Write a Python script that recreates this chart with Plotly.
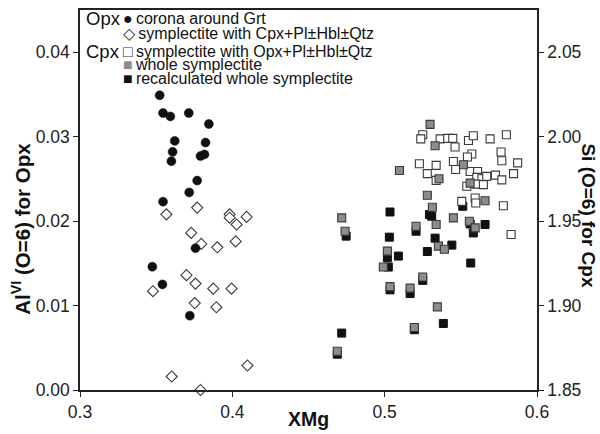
import plotly.graph_objects as go

# ---- Opx (left axis, Al VI) ----
corona_x = [0.3523, 0.3545, 0.3593, 0.3714, 0.3846, 0.3622, 0.3824, 0.3608, 0.3791, 0.3817,
            0.3600, 0.3769, 0.3717, 0.3545, 0.3758, 0.3475, 0.3541, 0.3721]
corona_y = [0.0349, 0.0328, 0.0324, 0.0328, 0.0315, 0.0295, 0.0293, 0.0282, 0.0277, 0.0279,
            0.0271, 0.0248, 0.0234, 0.0223, 0.0168, 0.0146, 0.0125, 0.0088]

sympl_opx_x = [0.3567, 0.3769, 0.3982, 0.3982, 0.4094, 0.4028, 0.3730, 0.3796, 0.3901, 0.4022,
               0.3699, 0.3479, 0.3758, 0.3875, 0.3995, 0.3753, 0.3895, 0.4099, 0.3602, 0.3791]
sympl_opx_y = [0.0208, 0.0216, 0.0208, 0.0204, 0.0205, 0.0196, 0.0186, 0.0173, 0.0169, 0.0176,
               0.0136, 0.0117, 0.0126, 0.0120, 0.0120, 0.0103, 0.0098, 0.0029, 0.0016, 0.0000]

# ---- Cpx (right axis, Si) ----
sympl_cpx_x = [0.5250, 0.5237, 0.5364, 0.5414, 0.5447, 0.5462, 0.5550, 0.5582, 0.5692, 0.5799,
               0.5764, 0.5769, 0.5873, 0.5572, 0.5543, 0.5228, 0.5338, 0.5451, 0.5466, 0.5280,
               0.5338, 0.5561, 0.5610, 0.5605, 0.5638, 0.5670, 0.5727, 0.5769, 0.5846, 0.5539,
               0.5600, 0.5648, 0.5506, 0.5594, 0.5598, 0.5779, 0.5830]
sympl_cpx_y = [2.0011, 1.9987, 1.9987, 1.9990, 1.9990, 1.9939, 1.9977, 2.0005, 1.9987, 2.0011,
               1.9909, 1.9857, 1.9845, 1.9897, 1.9880, 1.9840, 1.9830, 1.9853, 1.9806, 1.9781,
               1.9741, 1.9794, 1.9794, 1.9759, 1.9751, 1.9765, 1.9772, 1.9744, 1.9781, 1.9706,
               1.9719, 1.9716, 1.9617, 1.9637, 1.9607, 1.9591, 1.9421]

whole_x = [0.5298, 0.5331, 0.5097, 0.5357, 0.5517, 0.5561, 0.5280, 0.5659, 0.5313, 0.5451,
           0.4718, 0.4740, 0.5206, 0.5338, 0.5556, 0.5594, 0.5353, 0.5392, 0.5018, 0.4991,
           0.5250, 0.5167, 0.5035, 0.5346, 0.5195, 0.4689]
whole_y = [2.0073, 1.9946, 1.9800, 1.9751, 1.9834, 1.9725, 1.9653, 1.9621, 1.9582, 1.9519,
           1.9519, 1.9440, 1.9470, 1.9480, 1.9499, 1.9460, 1.9352, 1.9333, 1.9322, 1.9228,
           1.9169, 1.9103, 1.9112, 1.8992, 1.8870, 1.8729]

recalc_x = [0.5513, 0.5035, 0.5294, 0.5309, 0.5561, 0.5659, 0.5206, 0.5582, 0.4747, 0.5031,
            0.5331, 0.5441, 0.5280, 0.5018, 0.5090, 0.5024, 0.5565, 0.5250, 0.5167, 0.5035,
            0.5385, 0.5195, 0.4718, 0.4689]
recalc_y = [1.9588, 1.9554, 1.9539, 1.9529, 1.9483, 1.9480, 1.9440, 1.9430, 1.9411, 1.9405,
            1.9399, 1.9358, 1.9320, 1.9283, 1.9293, 1.9228, 1.9252, 1.9149, 1.9071, 1.9093,
            1.8894, 1.8857, 1.8837, 1.8712]

x_ticks = [0.3, 0.4, 0.5, 0.6]
opx_ticks = [0.00, 0.01, 0.02, 0.03, 0.04]
cpx_ticks = [1.85, 1.90, 1.95, 2.00, 2.05]

FONT = 'Liberation Sans, Arial, sans-serif'
EDGE = '#3a3a3a'

fig = go.Figure()

# Cpx: recalculated (black) underneath, then open, then grey on top
fig.add_trace(go.Scatter(x=recalc_x, y=recalc_y, yaxis='y2', mode='markers', showlegend=False,
                         marker=dict(symbol='square', size=8, color='#111', line=dict(color='#111', width=1))))
fig.add_trace(go.Scatter(x=sympl_cpx_x, y=sympl_cpx_y, yaxis='y2', mode='markers', showlegend=False,
                         marker=dict(symbol='square', size=8, color='white', line=dict(color=EDGE, width=1.1))))
fig.add_trace(go.Scatter(x=whole_x, y=whole_y, yaxis='y2', mode='markers', showlegend=False,
                         marker=dict(symbol='square', size=8, color='#8c8c8c', line=dict(color=EDGE, width=1.1))))

# Opx
fig.add_trace(go.Scatter(x=sympl_opx_x, y=sympl_opx_y, mode='markers', showlegend=False, cliponaxis=False,
                         marker=dict(symbol='diamond', size=8.5, color='white', line=dict(color=EDGE, width=1.1))))
fig.add_trace(go.Scatter(x=corona_x, y=corona_y, mode='markers', showlegend=False,
                         marker=dict(symbol='circle', size=9, color='#111', line=dict(color='#111', width=0.5))))

axis_line = dict(showline=True, linecolor='#222', linewidth=1.6, showgrid=False, zeroline=False,
                 ticks='outside', ticklen=5, tickcolor='#222', tickwidth=1.3,
                 tickfont=dict(family=FONT, size=17.5, color='#222'))

fig.update_layout(
    width=600, height=434,
    margin=dict(l=80, r=63, t=8, b=44),
    plot_bgcolor='white', paper_bgcolor='white',
    xaxis=dict(range=[0.3, 0.6], tickvals=x_ticks, tickformat='.1f', mirror=True, **axis_line),
    yaxis=dict(range=[0, 0.045], tickvals=opx_ticks, tickformat='.2f', **axis_line),
    yaxis2=dict(range=[1.85, 2.075], tickvals=cpx_ticks, tickformat='.2f', overlaying='y', side='right',
                **axis_line),
)

notes = [
    dict(text='<b>XMg</b>', x=0.5, y=-0.075, xanchor='center', yanchor='middle',
         font=dict(family=FONT, size=19.5, color='#111')),
    dict(text='<b>Al<sup>VI</sup> (O=6) for Opx</b>', x=-0.128, y=0.423, textangle=-90,
         xanchor='center', yanchor='middle', font=dict(family=FONT, size=20.5, color='#111')),
    dict(text='<b>Si (O=6) for Cpx</b>', x=1.112, y=0.459, textangle=90,
         xanchor='center', yanchor='middle', font=dict(family=FONT, size=19, color='#111')),
    dict(text='Opx', x=0.008, y=0.977, xanchor='left', yanchor='middle',
         font=dict(family=FONT, size=18.5, color='#111')),
    dict(text='Cpx', x=0.008, y=0.891, xanchor='left', yanchor='middle',
         font=dict(family=FONT, size=18.5, color='#111')),
]
legend_rows = [
    ('●', '#111', 'corona around Grt', 0.977),
    ('◇', '#333', 'symplectite with Cpx+Pl±Hbl±Qtz', 0.938),
    ('□', '#333', 'symplectite with Opx+Pl±Hbl±Qtz', 0.891),
    ('■', '#8c8c8c', 'whole symplectite', 0.857),
    ('■', '#111', 'recalculated whole symplectite', 0.820),
]
for sym, col, label, ypos in legend_rows:
    notes.append(dict(text=f"<span style='color:{col}'>{sym}</span>\u2009{label}", x=0.089, y=ypos,
                      xanchor='left', yanchor='middle', font=dict(family=FONT, size=16, color='#111')))

for n in notes:
    fig.add_annotation(xref='paper', yref='paper', showarrow=False, **n)

# page body has a default 8px margin; drop it so the figure sits at the window's corner
fig.write_html("out.html", config={'displayModeBar': False},
               post_script="document.body.style.margin='0';document.body.style.overflow='hidden';")
